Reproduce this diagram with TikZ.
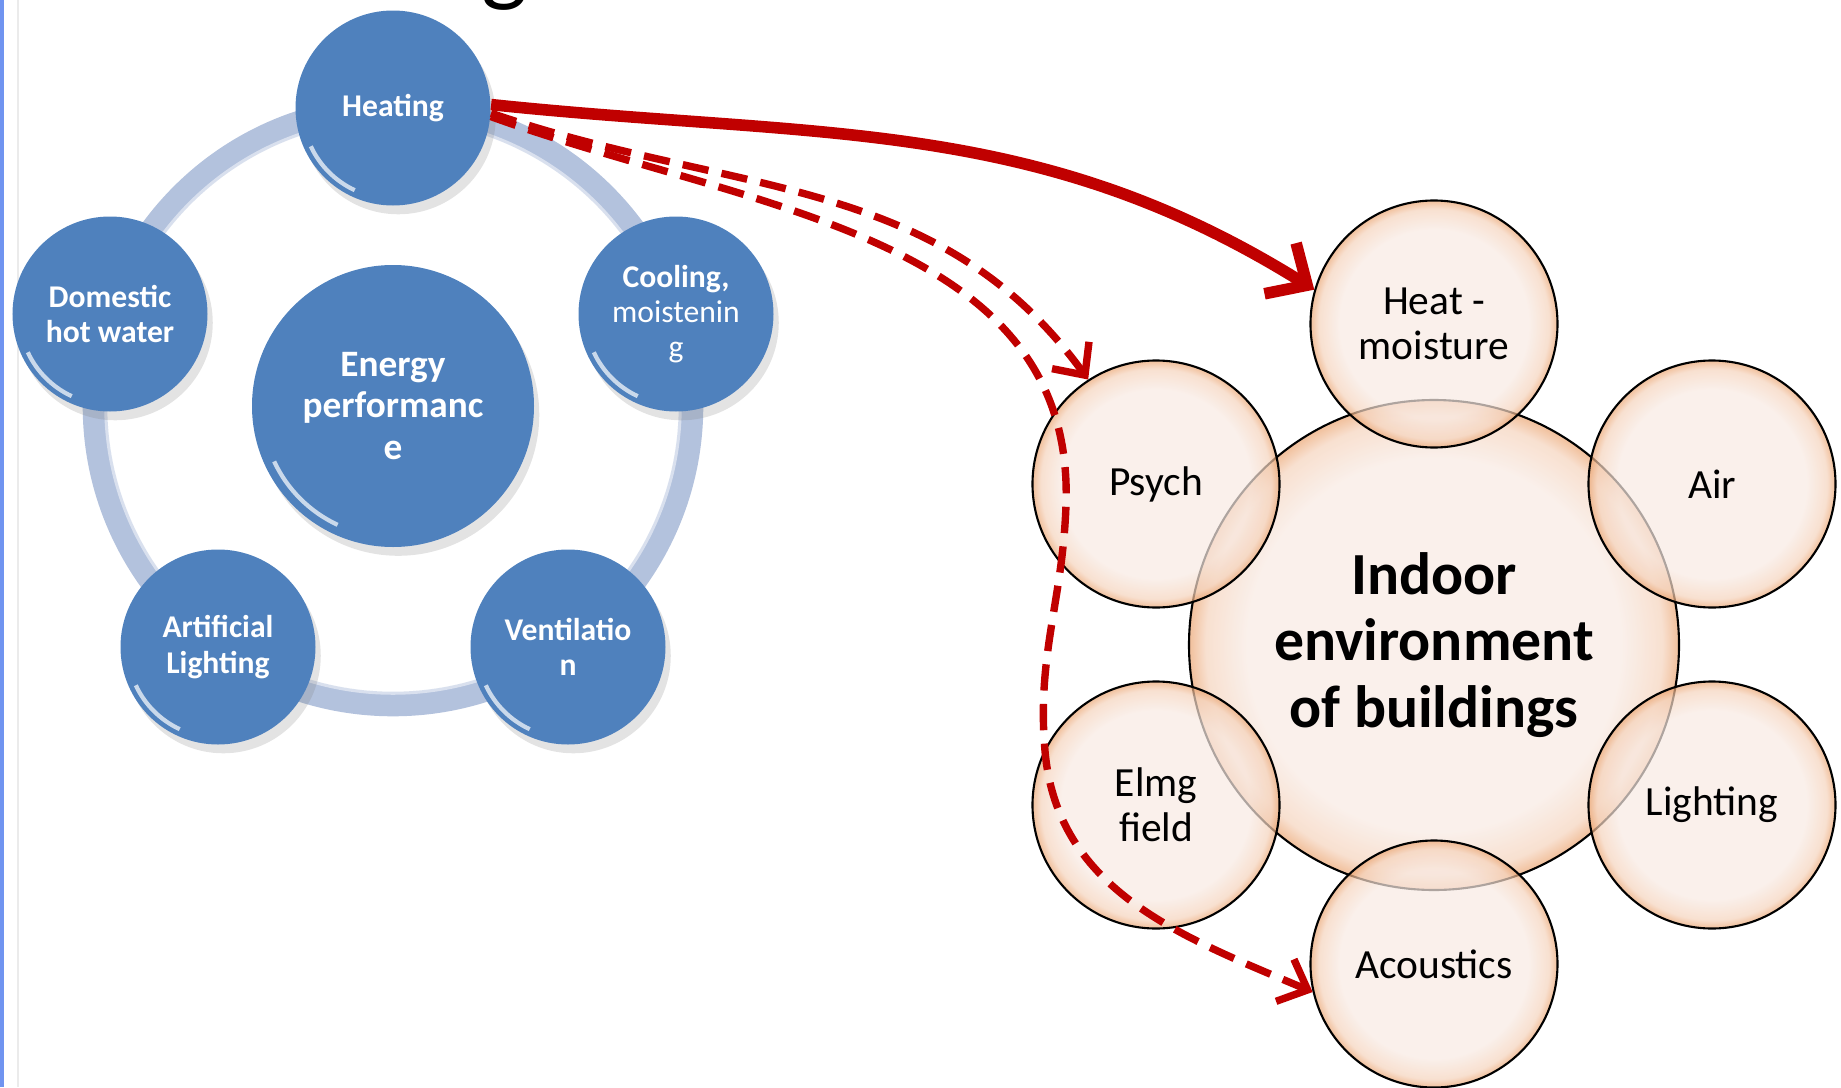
\documentclass[tikz,border=0pt]{standalone}
\usepackage{fontspec}
\setmainfont{Carlito}
\usetikzlibrary{arrows.meta, positioning, shadows}
\usepackage{xcolor}

\definecolor{offblue}{HTML}{4F81BD}
\definecolor{ringblue}{HTML}{B3C2DD}
\definecolor{darkred}{HTML}{C00000}
\definecolor{peachin}{HTML}{F8EAE3}
\definecolor{peachmid}{HTML}{F5D3BC}
\definecolor{peachout}{HTML}{EBA470}
\definecolor{slideedge}{HTML}{7094F0}

\pgfdeclareradialshading{bubble}{\pgfpoint{0bp}{0bp}}{color(0bp)=(peachin); color(19bp)=(peachin); color(23.3bp)=(peachmid); color(25bp)=(peachout); color(50bp)=(peachout)}

\begin{document}
\begin{tikzpicture}[on grid,
    bluenode/.style={circle, fill=offblue, text=white, align=center, inner sep=0pt,
        minimum size=1.95cm, font=\bfseries\fontsize{9}{10}\selectfont,
        drop shadow={opacity=0.22, shadow xshift=1.5pt, shadow yshift=-2.5pt}},
    energynode/.style={bluenode, minimum size=2.82cm, font=\bfseries\fontsize{10.6}{11.7}\selectfont},
    bubblenode/.style={circle, draw=black, line width=0.6pt, shading=bubble, fill opacity=0.7,
        text opacity=1, align=center, inner sep=0pt, minimum size=2.47cm,
        font=\fontsize{11.8}{12.7}\selectfont},
    indoornode/.style={bubblenode, minimum size=4.9cm, font=\bfseries\fontsize{17}{19}\selectfont},
    ring/.style={draw=ringblue, line width=7pt},
    glint/.style={draw=white, line width=1.2pt, opacity=0.7},
    heatarrow/.style={draw=darkred, line width=3.3pt, -{Straight Barb[length=9pt, width=17pt]}},
    dasharrow/.style={draw=darkred, line width=2.1pt, dash pattern=on 7.5pt off 3.8pt,
        -{Straight Barb[length=7pt, width=13pt]}}]
    \useasboundingbox (0,0) rectangle (18.41,10.87);

    % slide edges and title remnant
    \draw[slideedge, line width=1.2pt] (0.02,0) -- (0.02,10.87);
    \draw[black!8, line width=0.5pt] (0.18,0) -- (0.18,10.87);
    \node[anchor=base, font=\fontsize{28}{30}\selectfont] (title) at (5.05,10.94) {g};

    % energy performance
    \node[energynode] (energy) at (3.93,6.81) {Energy\\performanc\\e};
    \draw[ring] (energy.center) circle (2.98);
    \draw[white, line width=1pt, opacity=0.5] (energy.center) circle (2.87);
    \node[bluenode] (heat) [above=2.98cm of energy] {Heating};
    \node[bluenode] (dhw) [above left=0.92cm and 2.83cm of energy] {Domestic\\hot water};
    \node[bluenode] (cool) [above right=0.92cm and 2.83cm of energy] {Cooling,\\{\mdseries moistenin}\\{\mdseries g}};
    \node[bluenode] (artlight) [below left=2.41cm and 1.75cm of energy] {Artificial\\Lighting};
    \node[bluenode] (vent) [below right=2.41cm and 1.75cm of energy] {Ventilatio\\n};
    \foreach \n/\r in {heat/0.975, dhw/0.975, cool/0.975, artlight/0.975, vent/0.975, energy/1.41}
        \draw[glint] (\n.center) ++(205:{0.93*\r}) arc[start angle=205, end angle=245, radius={0.93*\r}];

    % indoor environment
    \node[indoornode] (indoor) at (14.34,4.42) {Indoor\\environment\\of buildings};
    \node[bubblenode] (hm) [above=3.21cm of indoor] {Heat -\\moisture};
    \node[bubblenode] (psych) [above left=1.61cm and 2.78cm of indoor] {Psych};
    \node[bubblenode] (air) [above right=1.61cm and 2.78cm of indoor] {Air};
    \node[bubblenode] (elmg) [below left=1.6cm and 2.78cm of indoor] {Elmg\\field};
    \node[bubblenode] (light) [below right=1.6cm and 2.78cm of indoor] {Lighting};
    \node[bubblenode] (acou) [below=3.19cm of indoor] {Acoustics};

    % links
    \coordinate (bend1) at (10.66,5.82);
    \coordinate (bend2) at (10.45,3.36);
    \draw[heatarrow] (heat.2) to[out=-6, in=148] (hm.164);
    \draw[dasharrow] (heat.-3) to[out=-19, in=126] (psych.123);
    \draw[dasharrow] (heat.-5) to[out=-20, in=88] (bend1) to[out=-92, in=95] (bend2)
        to[out=-85, in=157] (acou.193);
\end{tikzpicture}
\end{document}
